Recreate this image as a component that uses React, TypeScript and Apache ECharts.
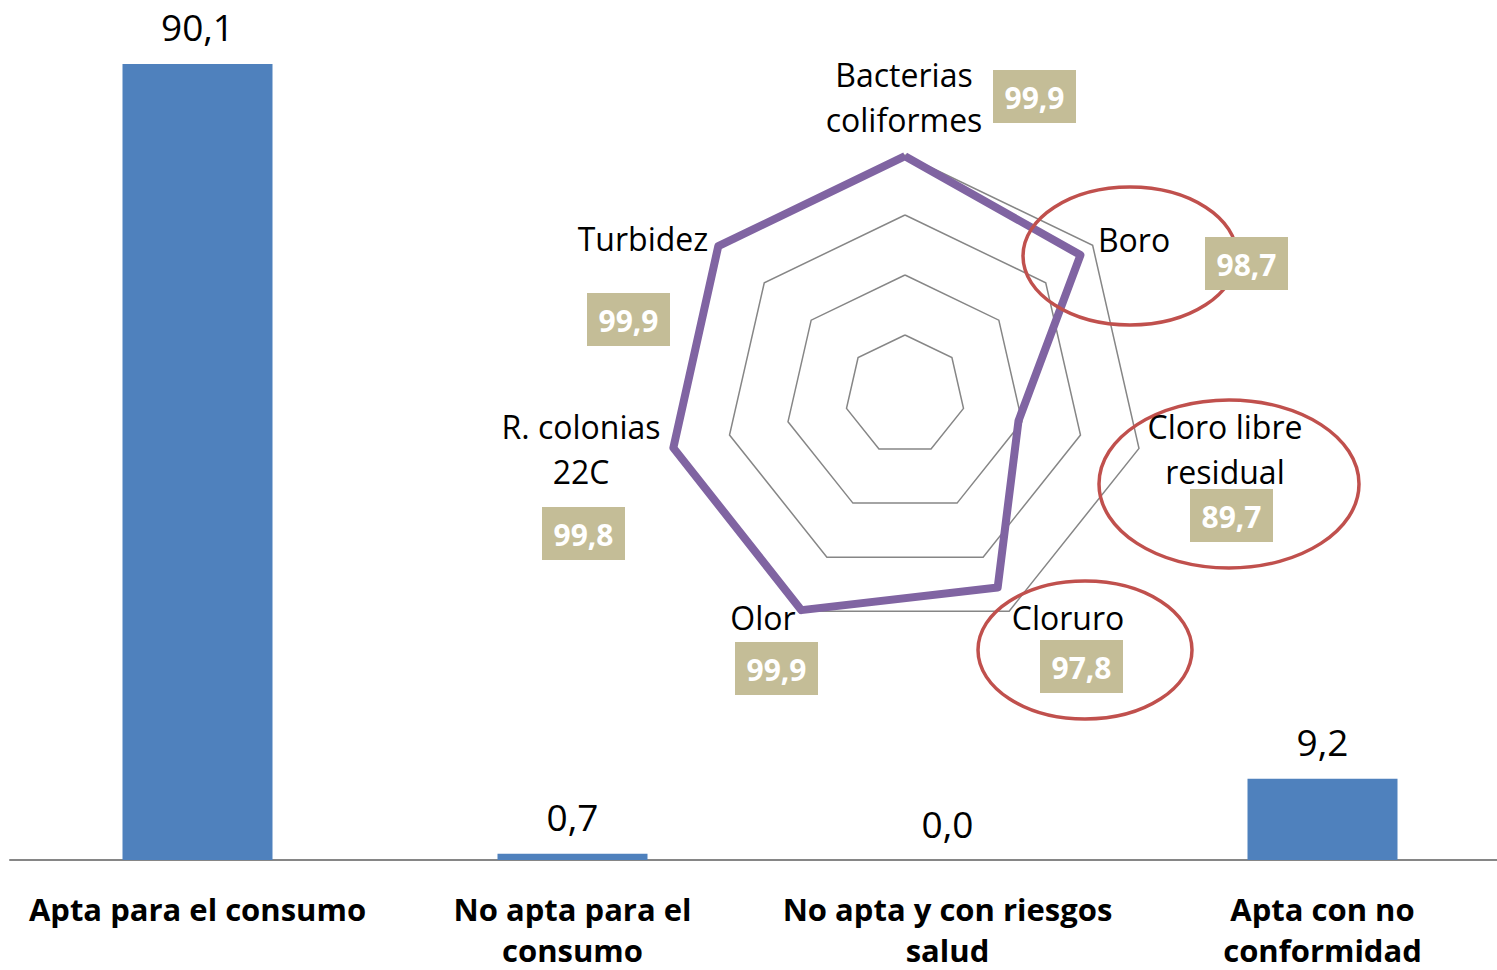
import React, { useEffect, useRef } from "react";
import * as echarts from "echarts";

const barCategories = [
  "Apta para el consumo",
  "No apta para el\nconsumo",
  "No apta y con riesgos\nsalud",
  "Apta con no\nconformidad",
];
const barValues = [90.1, 0.7, 0.0, 9.2];

// Radar indicators, in ECharts order (top, then counter-clockwise)
const radarNames = [
  "Bacterias\ncoliformes",
  "Turbidez",
  "R. colonias\n22C",
  "Olor",
  "Cloruro",
  "Cloro libre\nresidual",
  "Boro",
];
const radarValues = [99.9, 99.9, 99.8, 99.9, 97.8, 89.7, 98.7];
const radarMin = 80;
const radarMax = 100;

// layout (positions only)
const namePos: [number, number][] = [
  [904, 97],
  [643, 238],
  [581, 449],
  [763, 617],
  [1068, 617],
  [1225, 449],
  [1134, 239],
];
const boxPos: [number, number][] = [
  [993, 70],
  [587, 293],
  [542, 507],
  [735, 642],
  [1040, 640],
  [1190, 489],
  [1205, 237],
];
const ellipses = [
  { cx: 1130, cy: 256, rx: 107, ry: 69 },
  { cx: 1229, cy: 484, rx: 130, ry: 84 },
  { cx: 1085, cy: 650, rx: 107, ry: 69 },
];

const fmt = (v: number) => v.toFixed(1).replace(".", ",");
const FONT = '"Open Sans", "Noto Sans", sans-serif';

export default function App() {
  const ref = useRef<HTMLDivElement>(null);
  useEffect(() => {
    document.body.style.margin = "0";
    if (!ref.current) return;
    const chart = echarts.init(ref.current, null, { renderer: "svg" });

    const graphics: any[] = [];
    ellipses.forEach((e) => {
      graphics.push({
        type: "ellipse",
        z: 8,
        shape: e,
        style: { fill: "none", stroke: "#C0504D", lineWidth: 3.5 },
      });
    });
    radarNames.forEach((n, i) => {
      graphics.push({
        type: "text",
        x: namePos[i][0],
        y: namePos[i][1],
        z: 10,
        style: {
          text: n,
          align: "center",
          verticalAlign: "middle",
          fill: "#000",
          fontFamily: FONT,
          fontSize: 32,
          lineHeight: 45,
        },
      });
      graphics.push({
        type: "rect",
        z: 10,
        shape: { x: boxPos[i][0], y: boxPos[i][1], width: 83, height: 53 },
        style: { fill: "#C4BD97" },
      });
      graphics.push({
        type: "text",
        z: 11,
        x: boxPos[i][0] + 41.5,
        y: boxPos[i][1] + 27,
        style: {
          text: fmt(radarValues[i]),
          align: "center",
          verticalAlign: "middle",
          fill: "#fff",
          fontFamily: FONT,
          fontWeight: "bold",
          fontSize: 30,
        },
      });
    });

    chart.setOption({
      animation: false,
      backgroundColor: "#fff",
      grid: {
        left: 10,
        width: 1500,
        top: 0,
        height: 860,
        containLabel: false,
        outerBoundsMode: "none",
      },
      xAxis: {
        type: "category",
        data: barCategories,
        axisLine: { show: true, lineStyle: { color: "#868686", width: 2 } },
        axisTick: { show: false },
        axisLabel: {
          margin: 28,
          color: "#000",
          fontFamily: FONT,
          fontWeight: "bold",
          fontSize: 31,
          lineHeight: 41,
          interval: 0,
        },
      },
      yAxis: {
        type: "value",
        min: 0,
        max: 97.34,
        show: false,
        splitLine: { show: false },
      },
      radar: {
        center: [905, 395],
        radius: 240,
        startAngle: 90,
        shape: "polygon",
        splitNumber: 4,
        indicator: radarNames.map((n) => ({ name: n, min: radarMin, max: radarMax })),
        axisName: { show: false },
        axisLine: { show: false },
        axisTick: { show: false },
        axisLabel: { show: false },
        splitArea: { show: false },
        splitLine: { lineStyle: { color: "#868686", width: 1.5 } },
      },
      series: [
        {
          type: "bar",
          data: barValues,
          barWidth: 150,
          itemStyle: { color: "#4F81BD" },
          label: {
            show: true,
            position: "top",
            distance: 17,
            color: "#000",
            fontFamily: FONT,
            fontSize: 37,
            lineHeight: 40,
            formatter: (p: any) => fmt(p.value),
          },
        },
        {
          type: "radar",
          symbol: "none",
          lineStyle: { color: "#8064A2", width: 8 },
          itemStyle: { color: "#8064A2" },
          data: [{ value: radarValues, name: "Parámetros" }],
          z: 5,
        },
      ],
      graphic: graphics,
    });
    return () => chart.dispose();
  }, []);
  return <div ref={ref} style={{ width: 1497, height: 970 }} />;
}
